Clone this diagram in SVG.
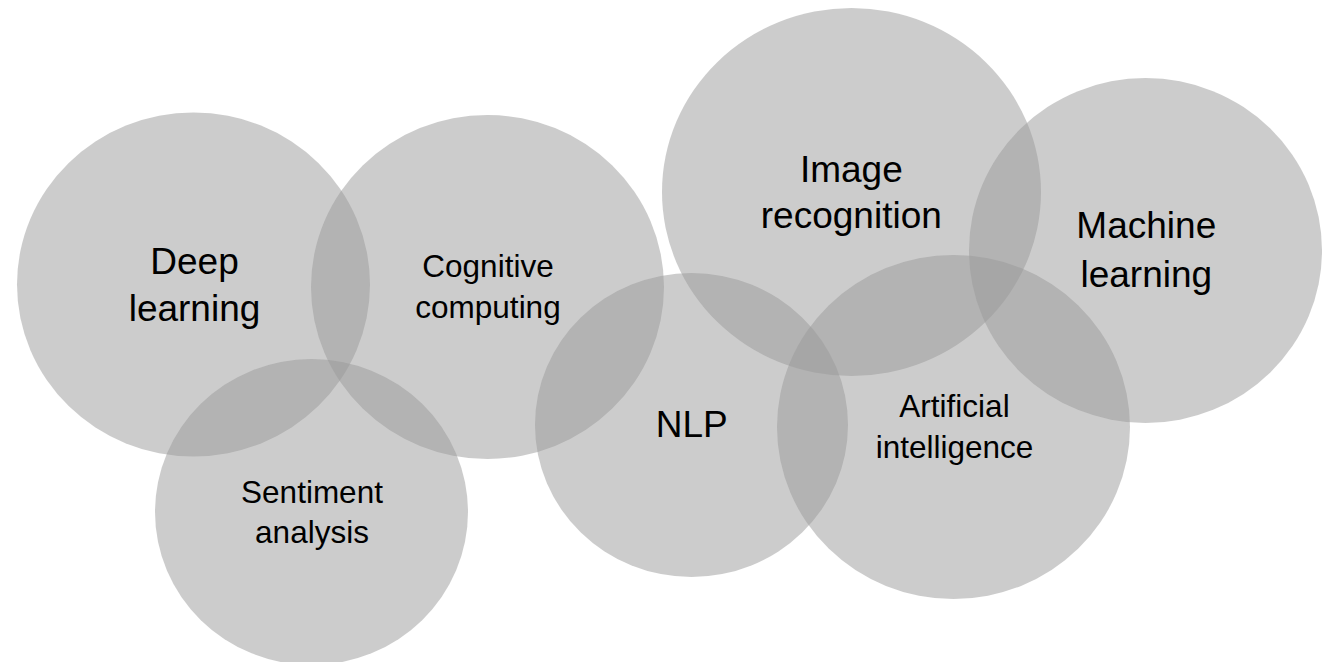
<svg xmlns="http://www.w3.org/2000/svg" width="1322" height="662" viewBox="0 0 1322 662">
<style>
.c{fill:#999999;fill-opacity:0.5;stroke:none}
.t{font-family:"Liberation Sans",Arial,sans-serif;fill:#000000;text-anchor:middle}
.big{font-size:37px}
.small{font-size:31.5px}
</style>
<rect width="1322" height="662" fill="#ffffff"/>
<g id="connectors"/>
<g id="deep-learning">
<ellipse class="c" cx="193.5" cy="284.5" rx="176.5" ry="172"/>
<text class="t big" x="194.5" y="274">Deep</text>
<text class="t big" x="194.5" y="320.5">learning</text>
</g>
<g id="cognitive-computing">
<ellipse class="c" cx="487.5" cy="287" rx="176.5" ry="172"/>
<text class="t small" x="488" y="276.7">Cognitive</text>
<text class="t small" x="488" y="318.3">computing</text>
</g>
<g id="sentiment-analysis">
<ellipse class="c" cx="311.5" cy="512" rx="156.5" ry="153"/>
<text class="t small" x="312" y="502.7">Sentiment</text>
<text class="t small" x="312" y="542.7">analysis</text>
</g>
<g id="nlp">
<ellipse class="c" cx="691.5" cy="425" rx="156.5" ry="152"/>
<text class="t big" x="691.7" y="436.7">NLP</text>
</g>
<g id="image-recognition">
<ellipse class="c" cx="851.5" cy="192" rx="189.5" ry="184"/>
<text class="t big" x="851.3" y="181.7">Image</text>
<text class="t big" x="851.3" y="228.3">recognition</text>
</g>
<g id="artificial-intelligence">
<ellipse class="c" cx="953.5" cy="427" rx="176.5" ry="172"/>
<text class="t small" x="954.5" y="416.7">Artificial</text>
<text class="t small" x="954.5" y="458.3">intelligence</text>
</g>
<g id="machine-learning">
<ellipse class="c" cx="1145.5" cy="250.5" rx="176.5" ry="172.5"/>
<text class="t big" x="1146.3" y="238.3">Machine</text>
<text class="t big" x="1146.3" y="286.7">learning</text>
</g>
</svg>
